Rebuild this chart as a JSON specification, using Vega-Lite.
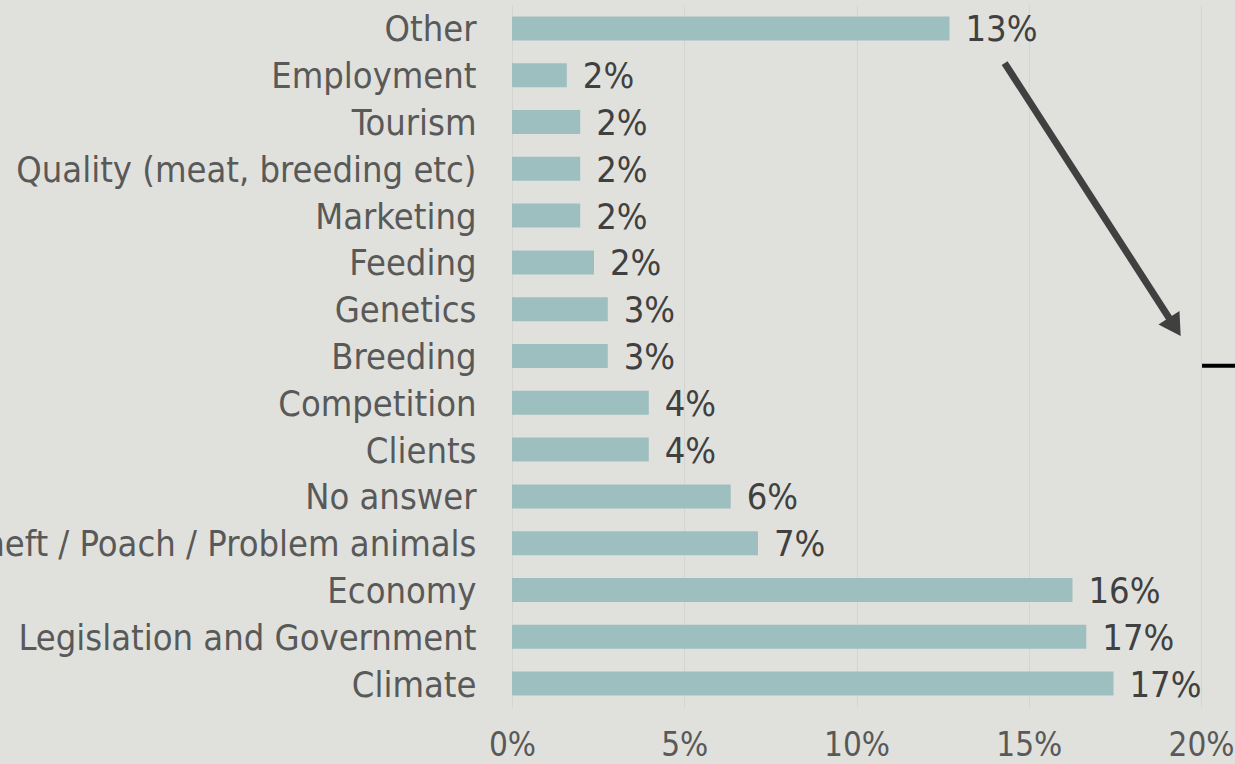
{
  "$schema": "https://vega.github.io/schema/vega-lite/v6.json",
  "width": 689,
  "height": 702,
  "autosize": {"type": "none"},
  "padding": {"left": 512, "top": 5, "right": 34, "bottom": 57},
  "background": "#e0e1dc",
  "config": {"view": {"stroke": null}, "font": "DejaVu Sans Condensed, DejaVu Sans"},
  "datasets": {
    "issues": [
      {"issue": "Other", "share": 0.1270},
      {"issue": "Employment", "share": 0.0159},
      {"issue": "Tourism", "share": 0.0198},
      {"issue": "Quality (meat, breeding etc)", "share": 0.0198},
      {"issue": "Marketing", "share": 0.0198},
      {"issue": "Feeding", "share": 0.0238},
      {"issue": "Genetics", "share": 0.0278},
      {"issue": "Breeding", "share": 0.0278},
      {"issue": "Competition", "share": 0.0397},
      {"issue": "Clients", "share": 0.0397},
      {"issue": "No answer", "share": 0.0635},
      {"issue": "Theft / Poach / Problem animals", "share": 0.0714},
      {"issue": "Economy", "share": 0.1627},
      {"issue": "Legislation and Government", "share": 0.1667},
      {"issue": "Climate", "share": 0.1746}
    ],
    "arrow": [{"x": 0.1430, "y": 1.24, "x2": 0.1924, "y2": 6.876}],
    "head": [{"x": 0.1924, "y": 6.876}],
    "tail": [{"x": 0.2003, "x2": 0.2105, "y": 7.71}]
  },
  "layer": [
    {
      "data": {"name": "issues"},
      "encoding": {
        "y": {
          "field": "issue", "type": "nominal", "sort": null,
          "scale": {"paddingInner": 0.487, "paddingOuter": 0.2435},
          "axis": {"title": null, "ticks": false, "domain": false, "labelFontSize": 36, "labelColor": "#595959", "labelPadding": 36, "labelLimit": 0, "labelOffset": 2}
        },
        "x": {
          "field": "share", "type": "quantitative",
          "scale": {"domain": [0, 0.2], "nice": false},
          "axis": {"title": null, "format": ".0%", "values": [0, 0.05, 0.1, 0.15, 0.2], "ticks": false, "domain": false, "grid": true, "gridColor": "#d4d4d1", "labelFontSize": 33, "labelColor": "#595959", "labelPadding": 22, "labelFlush": false}
        }
      },
      "layer": [
        {"mark": {"type": "bar", "color": "#9ebfbf"}},
        {
          "mark": {"type": "text", "align": "left", "baseline": "middle", "dx": 16, "dy": 2, "fontSize": 36, "color": "#404040"},
          "encoding": {"text": {"field": "share", "type": "quantitative", "format": ".0%"}}
        }
      ]
    },
    {
      "layer": [
        {
          "data": {"name": "arrow"},
          "mark": {"type": "rule", "color": "#404040", "strokeWidth": 7},
          "encoding": {
            "x": {"field": "x", "type": "quantitative"},
            "x2": {"field": "x2"},
            "y": {"field": "y", "type": "quantitative", "scale": {"domain": [0, 15], "reverse": true, "nice": false, "zero": false}, "axis": null},
            "y2": {"field": "y2"}
          }
        },
        {
          "data": {"name": "head"},
          "mark": {"type": "point", "shape": "triangle-up", "size": 625, "angle": 147.3, "filled": true, "opacity": 1, "color": "#404040"},
          "encoding": {
            "x": {"field": "x", "type": "quantitative"},
            "y": {"field": "y", "type": "quantitative"}
          }
        },
        {
          "data": {"name": "tail"},
          "mark": {"type": "rule", "color": "#000000", "strokeWidth": 4},
          "encoding": {
            "x": {"field": "x", "type": "quantitative"},
            "x2": {"field": "x2"},
            "y": {"field": "y", "type": "quantitative"}
          }
        }
      ]
    }
  ],
  "resolve": {"scale": {"y": "independent"}, "axis": {"y": "independent"}}
}
